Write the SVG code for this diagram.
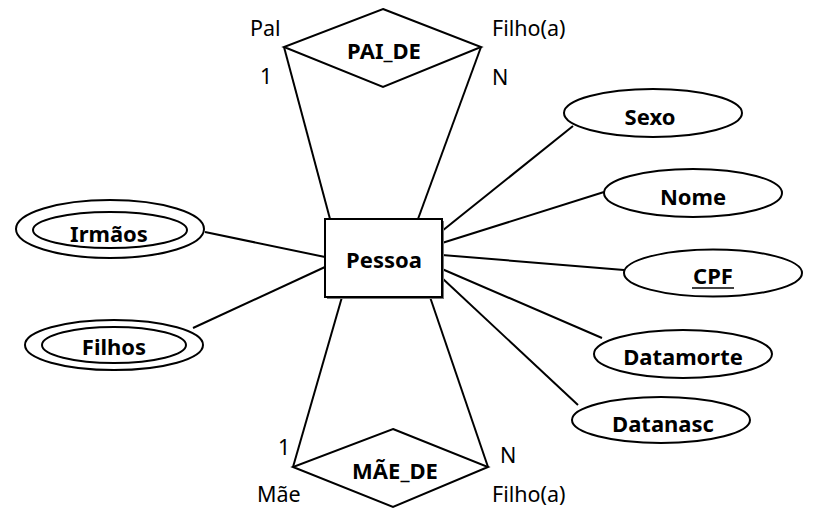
<svg xmlns="http://www.w3.org/2000/svg" width="818" height="525" viewBox="0 0 818 525">
<style>
.s{fill:#fff;stroke:#000;stroke-width:2}
.c line{stroke:#000;stroke-width:2}
.b{font-family:"Noto Sans","DejaVu Sans",sans-serif;font-weight:bold;font-size:22px;text-anchor:middle;fill:#000}
.r{font-family:"Noto Sans","DejaVu Sans",sans-serif;font-size:21.5px;fill:#000}
</style>
<rect width="818" height="525" fill="#fff"/>
<g id="connectors" class="c">
<line x1="284" y1="47" x2="330" y2="219"/>
<line x1="481" y1="47" x2="418" y2="219"/>
<line x1="342" y1="297" x2="293" y2="467"/>
<line x1="430" y1="297" x2="488" y2="467"/>
<line x1="205" y1="232" x2="325" y2="257"/>
<line x1="193" y1="328" x2="325" y2="267"/>
<line x1="442" y1="231" x2="573" y2="126"/>
<line x1="442" y1="243" x2="604" y2="192"/>
<line x1="442" y1="255" x2="624" y2="270"/>
<line x1="442" y1="269" x2="602" y2="338"/>
<line x1="442" y1="278" x2="578" y2="405"/>
</g>
<g id="pai_de">
<polygon class="s" points="383,9 481,47 383,87 284,47"/>
<text class="b" x="384" y="59">PAI_DE</text>
<text class="r" x="250" y="36">Pal</text>
<text class="r" x="260" y="84">1</text>
<text class="r" x="492" y="36">Filho(a)</text>
<text class="r" x="492" y="85">N</text>
</g>
<g id="mae_de">
<polygon class="s" points="393,429 488,467 393,507 293,467"/>
<text class="b" x="395" y="479">MÃE_DE</text>
<text class="r" x="278" y="455">1</text>
<text class="r" x="257" y="502">Mãe</text>
<text class="r" x="500" y="463">N</text>
<text class="r" x="492" y="502">Filho(a)</text>
</g>
<g id="pessoa">
<rect x="327" y="221" width="117" height="78" fill="#777"/>
<rect class="s" x="325" y="219" width="117" height="78"/>
<text class="b" x="384" y="268">Pessoa</text>
</g>
<g id="irmaos">
<ellipse class="s" cx="110" cy="229" rx="94" ry="29"/>
<ellipse class="s" cx="110" cy="230" rx="77" ry="18"/>
<text class="b" x="109" y="242">Irmãos</text>
</g>
<g id="filhos">
<ellipse class="s" cx="114" cy="345" rx="89" ry="25"/>
<ellipse class="s" cx="114" cy="345" rx="72" ry="18"/>
<text class="b" x="114" y="355">Filhos</text>
</g>
<g id="sexo">
<ellipse class="s" cx="653" cy="113" rx="89" ry="24"/>
<text class="b" x="650" y="125">Sexo</text>
</g>
<g id="nome">
<ellipse class="s" cx="693" cy="193" rx="89" ry="24"/>
<text class="b" x="693" y="205">Nome</text>
</g>
<g id="cpf">
<ellipse class="s" cx="713" cy="273" rx="89" ry="23.5"/>
<text class="b" x="713" y="284">CPF</text>
<line x1="692" y1="288" x2="734" y2="288" stroke="#000" stroke-width="1.5"/>
</g>
<g id="datamorte">
<ellipse class="s" cx="683" cy="354" rx="89" ry="24"/>
<text class="b" x="683" y="365">Datamorte</text>
</g>
<g id="datanasc">
<ellipse class="s" cx="661" cy="420" rx="89" ry="23"/>
<text class="b" x="663" y="432">Datanasc</text>
</g>
</svg>
